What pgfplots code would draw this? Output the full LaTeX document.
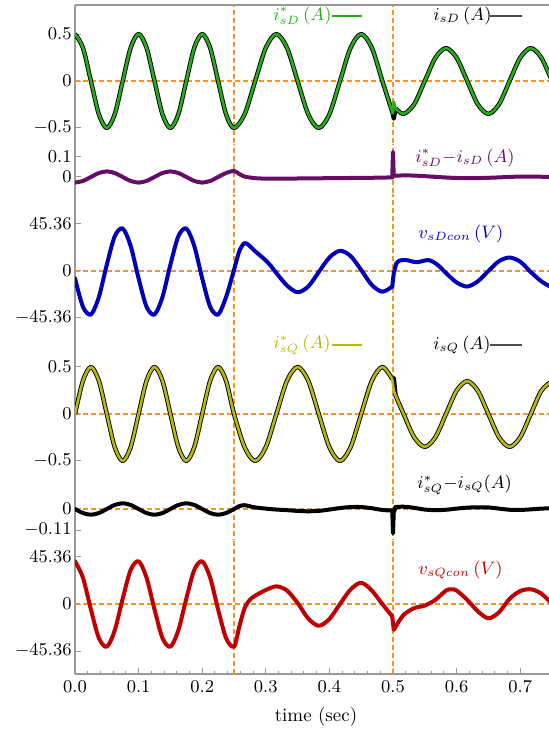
\documentclass[border=0pt]{standalone}
\usepackage{pgfplots}
\pgfplotsset{compat=1.18}
\definecolor{cgreen}{rgb}{0.15,0.68,0.1}
\definecolor{cpurple}{rgb}{0.4,0.05,0.4}
\definecolor{cblue}{rgb}{0,0,0.72}
\definecolor{colive}{rgb}{0.72,0.72,0.05}
\definecolor{cred}{rgb}{0.75,0,0}
\definecolor{corange}{rgb}{0.96,0.58,0.15}
\definecolor{cgray}{rgb}{0.6,0.6,0.6}
\pgfplotsset{
  panel/.style={
    scale only axis, width=237pt, xmin=0, xmax=0.7453,
    axis y line*=left,
    axis line style={cgray, line width=0.6pt},
    tick align=inside, major tick length=3pt, minor tick length=1.6pt,
    tick style={cgray, line width=0.5pt},
    yticklabel style={inner xsep=1.5pt},
    anchor=north west, clip=true,
  },
  zline/.style={corange, line width=0.6pt, dash pattern=on 2.5pt off 1.5pt, forget plot},
  crv/.style={line width=2pt, line join=round, line cap=round},
}
\begin{document}
\begin{tikzpicture}[font=\fontsize{9.5}{11}\selectfont]
\useasboundingbox (0,0) rectangle (274.5pt,-366pt);
%---------------- panel 1: i_sD
\begin{axis}[panel, axis x line=none, name=p1, at={(37.5pt,-2.5pt)}, height=70pt, ymin=-0.681, ymax=0.809,
  ytick={-0.5,0,0.5}, yticklabels={$-0.5$,$0$,$0.5$}]
\addplot[zline] coordinates {(0,0) (0.7453,0)};
\addplot[zline] coordinates {(0.25,-5) (0.25,5)};
\addplot[zline] coordinates {(0.5,-5) (0.5,5)};
% isD (black)
\addplot[black, line width=2.2pt, line join=round, smooth] table {
0 0.5
0.0125 0.3536
0.025 0
0.0375 -0.3536
0.05 -0.5
0.0625 -0.3536
0.075 0
0.0875 0.3536
0.1 0.5
0.1125 0.3536
0.125 0
0.1375 -0.3536
0.15 -0.5
0.1625 -0.3536
0.175 0
0.1875 0.3536
0.2 0.5
0.2125 0.3536
0.225 0
0.2375 -0.3536
0.25 -0.5
0.2667 -0.3536
0.2833 0
0.3 0.3536
0.3167 0.5
0.3333 0.3536
0.35 0
0.3667 -0.3536
0.3833 -0.5
0.4 -0.3536
0.4167 0
0.4333 0.3536
0.45 0.5
0.4667 0.3536
0.4833 0
0.5 -0.3536
};
\addplot[black, line width=2.2pt, line join=round] coordinates {(0.5,-0.3536) (0.5012,-0.40) (0.504,-0.289)};
\addplot[black, line width=2.2pt, line join=round, smooth] table {
0.504 -0.289
0.5167 -0.35
0.5333 -0.2475
0.55 0
0.5667 0.2475
0.5833 0.35
0.6 0.2475
0.6167 0
0.6333 -0.2475
0.65 -0.35
0.6667 -0.2475
0.6833 0
0.7 0.2475
0.7167 0.35
0.7333 0.2475
0.75 0
};
% isD* (green)
\addplot[cgreen, line width=1.3pt, line join=round, smooth] table {
0 0.5
0.0125 0.3536
0.025 0
0.0375 -0.3536
0.05 -0.5
0.0625 -0.3536
0.075 0
0.0875 0.3536
0.1 0.5
0.1125 0.3536
0.125 0
0.1375 -0.3536
0.15 -0.5
0.1625 -0.3536
0.175 0
0.1875 0.3536
0.2 0.5
0.2125 0.3536
0.225 0
0.2375 -0.3536
0.25 -0.5
0.2667 -0.3536
0.2833 0
0.3 0.3536
0.3167 0.5
0.3333 0.3536
0.35 0
0.3667 -0.3536
0.3833 -0.5
0.4 -0.3536
0.4167 0
0.4333 0.3536
0.45 0.5
0.4667 0.3536
0.4833 0
0.5 -0.3536
};
\addplot[cgreen, line width=1.3pt, line join=round] coordinates {(0.5,-0.3536) (0.5012,-0.22) (0.504,-0.289)};
\addplot[cgreen, line width=1.3pt, line join=round, smooth] table {
0.504 -0.289
0.5167 -0.35
0.5333 -0.2475
0.55 0
0.5667 0.2475
0.5833 0.35
0.6 0.2475
0.6167 0
0.6333 -0.2475
0.65 -0.35
0.6667 -0.2475
0.6833 0
0.7 0.2475
0.7167 0.35
0.7333 0.2475
0.75 0
};
\end{axis}
%---------------- panel 2: error D
\begin{axis}[panel, axis x line=none, name=p2, at={(37.5pt,-72.5pt)}, height=25pt, ymin=-0.09, ymax=0.16,
  ytick={0,0.1}, yticklabels={$0$,$0.1$}]
\addplot[zline] coordinates {(0.25,-5) (0.25,5)};
\addplot[zline] coordinates {(0.5,-5) (0.5,5)};
\addplot[cpurple, crv, smooth] table {
0 -0.028
0.0125 -0.0198
0.025 0
0.0375 0.0198
0.05 0.028
0.0625 0.0198
0.075 0
0.0875 -0.0198
0.1 -0.028
0.1125 -0.0198
0.125 0
0.1375 0.0198
0.15 0.028
0.1625 0.0198
0.175 0
0.1875 -0.0198
0.2 -0.028
0.2125 -0.0198
0.225 0
0.2375 0.0198
0.25 0.03
0.2583 0.015
0.2667 0.002
0.2833 -0.006
0.3 -0.008
0.3333 -0.008
0.3667 -0.007
0.4 -0.006
0.4333 -0.005
0.4667 -0.004
0.4988 -0.002
};
\addplot[cpurple, crv] coordinates {(0.4988,-0.002) (0.5,0.125) (0.5012,0.006)};
\addplot[cpurple, crv, smooth] table {
0.5012 0.006
0.52 0.008
0.54 0.006
0.56 0.002
0.58 -0.002
0.6 -0.005
0.62 -0.006
0.64 -0.005
0.66 -0.003
0.68 0
0.70 0.002
0.72 0.002
0.75 0
};
\end{axis}
%---------------- panel 3: v_sDcon
\begin{axis}[panel, axis x line=none, name=p3, at={(37.5pt,-97.5pt)}, height=72.5pt, ymin=-66.59, ymax=73.35,
  ytick={-45.36,0,45.36}, yticklabels={$-45.36$,$0$,$45.36$}]
\addplot[zline] coordinates {(0,0) (0.7453,0)};
\addplot[zline] coordinates {(0.25,-500) (0.25,500)};
\addplot[zline] coordinates {(0.5,-500) (0.5,500)};
\addplot[cblue, crv, smooth] table {
0 -7.1
0.0125 -34.5
0.025 -42.0
0.0375 -25.2
0.05 6.1
0.0625 33.5
0.075 41.0
0.0875 24.2
0.1 -7.1
0.1125 -34.5
0.125 -42.0
0.1375 -25.2
0.15 6.1
0.1625 33.5
0.175 41.0
0.1875 24.2
0.2 -7.1
0.2125 -34.5
0.225 -42.0
0.2375 -25.2
0.25 1
0.2583 19
0.2667 27
0.275 24
0.2833 19
0.2958 12.5
0.3067 5.8
0.3167 -2
0.3333 -14
0.35 -20.5
0.3667 -15
0.3833 -1
0.4 13
0.4167 19.5
0.4333 14.5
0.45 1
0.4667 -13.5
0.4833 -20
0.4988 -15
};
\addplot[cblue, crv] coordinates {(0.4988,-15) (0.5012,-2) (0.505,7)};
\addplot[cblue, crv, smooth] table {
0.505 7
0.51 10
0.521 10.5
0.537 8.5
0.556 10.5
0.57 6
0.5833 -2
0.6 -11
0.6167 -15
0.6333 -10
0.65 0
0.6667 9.5
0.6833 13
0.7 9
0.7167 -1
0.7333 -10
0.75 -16
};
\end{axis}
%---------------- panel 4: i_sQ
\begin{axis}[panel, axis x line=none, name=p4, at={(37.5pt,-170pt)}, height=75pt, ymin=-0.809, ymax=0.787,
  ytick={-0.5,0,0.5}, yticklabels={$-0.5$,$0$,$0.5$}]
\addplot[zline] coordinates {(0,0) (0.7453,0)};
\addplot[zline] coordinates {(0.25,-5) (0.25,5)};
\addplot[zline] coordinates {(0.5,-5) (0.5,5)};
% isQ (black)
\addplot[black, line width=2.2pt, line join=round, smooth] table {
0 0
0.0125 0.3536
0.025 0.5
0.0375 0.3536
0.05 0
0.0625 -0.3536
0.075 -0.5
0.0875 -0.3536
0.1 0
0.1125 0.3536
0.125 0.5
0.1375 0.3536
0.15 0
0.1625 -0.3536
0.175 -0.5
0.1875 -0.3536
0.2 0
0.2125 0.3536
0.225 0.5
0.2375 0.3536
0.25 0
0.2667 -0.3536
0.2833 -0.5
0.3 -0.3536
0.3167 0
0.3333 0.3536
0.35 0.5
0.3667 0.3536
0.3833 0
0.4 -0.3536
0.4167 -0.5
0.4333 -0.3536
0.45 0
0.4667 0.3536
0.4833 0.5
0.4988 0.371
};
\addplot[black, line width=2.2pt, line join=round] coordinates {(0.4988,0.371) (0.5012,0.38) (0.504,0.197)};
\addplot[black, line width=2.2pt, line join=round, smooth] table {
0.504 0.197
0.5167 0
0.5333 -0.2475
0.55 -0.35
0.5667 -0.2475
0.5833 0
0.6 0.2475
0.6167 0.35
0.6333 0.2475
0.65 0
0.6667 -0.2475
0.6833 -0.35
0.7 -0.2475
0.7167 0
0.7333 0.2475
0.75 0.35
};
% isQ* (olive)
\addplot[colive, line width=1.3pt, line join=round, smooth] table {
0 0
0.0125 0.3536
0.025 0.5
0.0375 0.3536
0.05 0
0.0625 -0.3536
0.075 -0.5
0.0875 -0.3536
0.1 0
0.1125 0.3536
0.125 0.5
0.1375 0.3536
0.15 0
0.1625 -0.3536
0.175 -0.5
0.1875 -0.3536
0.2 0
0.2125 0.3536
0.225 0.5
0.2375 0.3536
0.25 0
0.2667 -0.3536
0.2833 -0.5
0.3 -0.3536
0.3167 0
0.3333 0.3536
0.35 0.5
0.3667 0.3536
0.3833 0
0.4 -0.3536
0.4167 -0.5
0.4333 -0.3536
0.45 0
0.4667 0.3536
0.4833 0.5
0.4988 0.371
};
\addplot[colive, line width=1.3pt, line join=round] coordinates {(0.4988,0.371) (0.5012,0.25) (0.504,0.197)};
\addplot[colive, line width=1.3pt, line join=round, smooth] table {
0.504 0.197
0.5167 0
0.5333 -0.2475
0.55 -0.35
0.5667 -0.2475
0.5833 0
0.6 0.2475
0.6167 0.35
0.6333 0.2475
0.65 0
0.6667 -0.2475
0.6833 -0.35
0.7 -0.2475
0.7167 0
0.7333 0.2475
0.75 0.35
};
\end{axis}
%---------------- panel 5: error Q
\begin{axis}[panel, axis x line=none, name=p5, at={(37.5pt,-245pt)}, height=25pt, ymin=-0.1623, ymax=0.0995,
  ytick={-0.11,0}, yticklabels={$-0.11$,$0$}]
\addplot[zline] coordinates {(0,0) (0.7453,0)};
\addplot[zline] coordinates {(0.25,-5) (0.25,5)};
\addplot[zline] coordinates {(0.5,-5) (0.5,5)};
\addplot[black, crv, smooth] table {
0 0
0.0125 -0.0212
0.025 -0.03
0.0375 -0.0212
0.05 0
0.0625 0.0212
0.075 0.03
0.0875 0.0212
0.1 0
0.1125 -0.0212
0.125 -0.03
0.1375 -0.0212
0.15 0
0.1625 0.0212
0.175 0.03
0.1875 0.0212
0.2 0
0.2125 -0.0212
0.225 -0.03
0.2375 -0.0212
0.25 0
0.2583 0.015
0.2667 0.02
0.275 0.014
0.2833 0.008
0.3 0.002
0.3167 -0.003
0.3333 -0.006
0.35 -0.01
0.3667 -0.012
0.3833 -0.01
0.4 -0.003
0.4167 0.005
0.4333 0.01
0.45 0.01
0.4667 0.004
0.4833 -0.005
0.4988 -0.008
};
\addplot[black, crv] coordinates {(0.4988,-0.008) (0.5,-0.127) (0.5012,-0.02) (0.504,0.01)};
\addplot[black, crv, smooth] table {
0.504 0.01
0.5167 0.012
0.5333 0.006
0.55 -0.003
0.5667 -0.006
0.5833 -0.004
0.6 0.002
0.6167 0.007
0.6333 0.009
0.65 0.008
0.6667 0.002
0.6833 -0.004
0.7 -0.005
0.7167 -0.002
0.7333 0.002
0.75 0.004
};
\end{axis}
%---------------- panel 6: v_sQcon
\begin{axis}[panel, name=p6, at={(37.5pt,-270pt)}, height=67pt, ymin=-67.55, ymax=61.76,
  ytick={-45.36,0,45.36}, yticklabels={$-45.36$,$0$,$45.36$},
  axis x line*=bottom, xtick={0,0.1,0.2,0.3,0.4,0.5,0.6,0.7},
  xticklabels={$0.0$,$0.1$,$0.2$,$0.3$,$0.4$,$0.5$,$0.6$,$0.7$},
  minor x tick num=4,
  xlabel={time (sec)},
  xlabel style={at={(axis description cs:0.5,0)}, anchor=center, yshift=-21.5pt, xshift=2pt}]
\addplot[zline] coordinates {(0,0) (0.7453,0)};
\addplot[zline] coordinates {(0.25,-500) (0.25,500)};
\addplot[zline] coordinates {(0.5,-500) (0.5,500)};
\addplot[cred, crv, smooth] table {
0 41.2
0.0125 25.4
0.025 -5.2
0.0375 -32.8
0.05 -41.2
0.0625 -25.4
0.075 5.2
0.0875 32.8
0.1 41.2
0.1125 25.4
0.125 -5.2
0.1375 -32.8
0.15 -41.2
0.1625 -25.4
0.175 5.2
0.1875 32.8
0.2 41.2
0.2125 25.4
0.225 -5.2
0.2375 -32.8
0.25 -41.2
0.2583 -22
0.2667 -4
0.275 4
0.2833 8
0.3 13.5
0.3167 17
0.3333 13
0.35 1
0.3667 -14
0.3833 -21
0.4 -14.5
0.4167 0
0.4333 14
0.45 20.5
0.4667 13
0.4833 0
0.4988 -12
};
\addplot[cred, crv] coordinates {(0.4988,-12) (0.5012,-25) (0.505,-21)};
\addplot[cred, crv, smooth] table {
0.505 -21
0.5167 -10.5
0.5333 -4
0.55 -1.5
0.5667 4
0.5833 13
0.5917 14.2
0.6 13
0.6167 4
0.6333 -7
0.65 -13.8
0.6667 -8
0.6833 5
0.7 12.5
0.7167 14.2
0.7333 10
0.75 0
};
\end{axis}
% top frame line
\draw[cgray, line width=0.6pt] (p1.north west) -- (p1.north east);
% labels
\begin{scope}[font=\fontsize{9}{10}\selectfont]
\node[anchor=west, inner sep=0pt, text=cgreen] at (136.5pt,-8pt) {$i^{*}_{sD}\,(A)$};
\draw[cgreen, line width=0.7pt] (166pt,-8pt) -- (181pt,-8pt);
\node[anchor=west, inner sep=0pt, text=black] at (216.5pt,-8pt) {$i_{sD}\,(A)$};
\draw[black!70, line width=0.7pt] (245pt,-8pt) -- (261pt,-8pt);
\node[anchor=west, inner sep=0pt, text=cpurple] at (207.5pt,-79pt) {$i^{*}_{sD}{-}i_{sD}\,(A)$};
\node[anchor=west, inner sep=0pt, text=cblue] at (209pt,-117pt) {$v_{sDcon}\,(V)$};
\node[anchor=west, inner sep=0pt, text=colive] at (136.5pt,-172.5pt) {$i^{*}_{sQ}\,(A)$};
\draw[colive, line width=0.7pt] (166pt,-172.5pt) -- (181pt,-172.5pt);
\node[anchor=west, inner sep=0pt, text=black] at (216.5pt,-172.5pt) {$i_{sQ}\,(A)$};
\draw[black!70, line width=0.7pt] (245pt,-172.5pt) -- (261pt,-172.5pt);
\node[anchor=west, inner sep=0pt, text=black] at (208.5pt,-242.5pt) {$i^{*}_{sQ}{-}i_{sQ}(A)$};
\node[anchor=west, inner sep=0pt, text=cred] at (209pt,-285pt) {$v_{sQcon}\,(V)$};
\end{scope}
\end{tikzpicture}
\end{document}
